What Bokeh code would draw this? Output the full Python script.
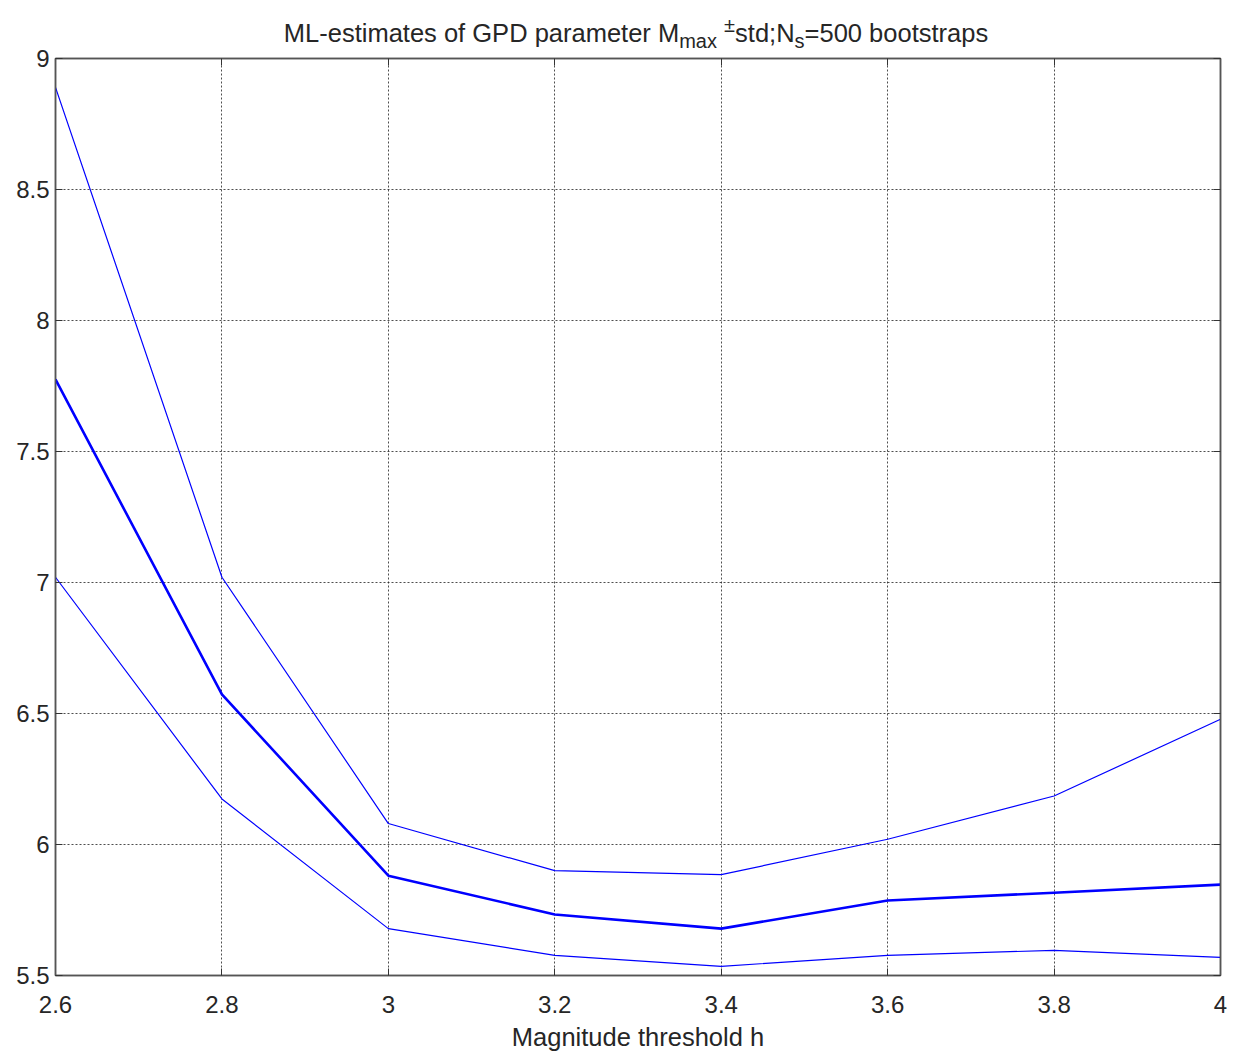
from bokeh.plotting import figure
from bokeh.models import Div, FixedTicker, Range1d, LinearAxis
from bokeh.layouts import column
from bokeh.embed import file_html
from bokeh.resources import INLINE

thresholds = [2.6, 2.8, 3.0, 3.2, 3.4, 3.6, 3.8, 4.0]
mmax_upper = [8.89, 7.02, 6.08, 5.90, 5.885, 6.02, 6.185, 6.478]
mmax_mean = [7.775, 6.573, 5.881, 5.733, 5.679, 5.786, 5.816, 5.847]
mmax_lower = [7.02, 6.174, 5.679, 5.577, 5.535, 5.577, 5.596, 5.569]
x_ticks = [2.6, 2.8, 3.0, 3.2, 3.4, 3.6, 3.8, 4.0]
x_tick_labels = ["2.6", "2.8", "3", "3.2", "3.4", "3.6", "3.8", "4"]
y_ticks = [5.5, 6.0, 6.5, 7.0, 7.5, 8.0, 8.5, 9.0]
y_tick_labels = ["5.5", "6", "6.5", "7", "7.5", "8", "8.5", "9"]

FONT = "Liberation Sans"

title = Div(
    text='ML-estimates of GPD parameter M<sub style="font-size:20px">max</sub> '
         '<sup style="font-size:20px">&plusmn;</sup>std;N<sub style="font-size:20px">s</sub>=500 bootstraps',
    width=1160, height=38, margin=(0, 0, 0, 56),
    styles={"font-family": FONT, "font-size": "25.5px", "text-align": "center",
            "color": "#262626", "line-height": "50px", "white-space": "nowrap",
            "overflow": "visible"},
)

p = figure(width=1241, height=1019, output_backend="svg", toolbar_location=None,
           x_range=Range1d(2.6, 4.0), y_range=Range1d(5.5, 9.0),
           min_border_left=55, min_border_right=21, min_border_top=20, min_border_bottom=82)

p.line(thresholds, mmax_upper, line_color="#0000ff", line_width=1.2)
p.line(thresholds, mmax_lower, line_color="#0000ff", line_width=1.2)
p.line(thresholds, mmax_mean, line_color="#0000ff", line_width=2.6)

xb = p.below[0]
yl = p.left[0]
xt = LinearAxis()
yr = LinearAxis()
p.add_layout(yr, "right")
p.add_layout(xt, "above")

xb.ticker = FixedTicker(ticks=x_ticks)
xt.ticker = FixedTicker(ticks=x_ticks)
yl.ticker = FixedTicker(ticks=y_ticks)
yr.ticker = FixedTicker(ticks=y_ticks)
xb.major_label_overrides = {t: l for t, l in zip(x_ticks, x_tick_labels)}
yl.major_label_overrides = {t: l for t, l in zip(y_ticks, y_tick_labels)}
xb.axis_label = "Magnitude threshold h"

for ax in (xb, yl, xt, yr):
    ax.major_label_text_font = FONT
    ax.major_label_text_font_size = "24px"
    ax.major_label_text_color = "#262626"
    ax.axis_label_text_font = FONT
    ax.axis_label_text_font_size = "25.5px"
    ax.axis_label_text_font_style = "normal"
    ax.axis_label_text_color = "#262626"
    ax.axis_line_color = "#555555"
    ax.axis_line_width = 1.5
    ax.major_tick_line_color = "#333333"
    ax.major_tick_out = 0
    ax.major_tick_in = 7
    ax.minor_tick_line_color = None

for ax in (xt, yr):
    ax.major_label_text_font_size = "1px"
    ax.major_label_text_color = None
    ax.major_label_standoff = 0

xb.major_label_standoff = 20
xb.axis_label_standoff = 7
yl.major_label_standoff = 6

p.grid.grid_line_color = "#222222"
p.grid.grid_line_dash = "2 2"
p.grid.grid_line_width = 1
p.grid.grid_line_alpha = 0.8

p.outline_line_color = "#555555"
p.outline_line_width = 1.5
p.outline_line_alpha = 1.0
p.background_fill_color = "white"
p.border_fill_alpha = 0.0

layout = column(title, p, spacing=0)

with open("out.html", "w") as f:
    f.write(file_html(layout, INLINE))
